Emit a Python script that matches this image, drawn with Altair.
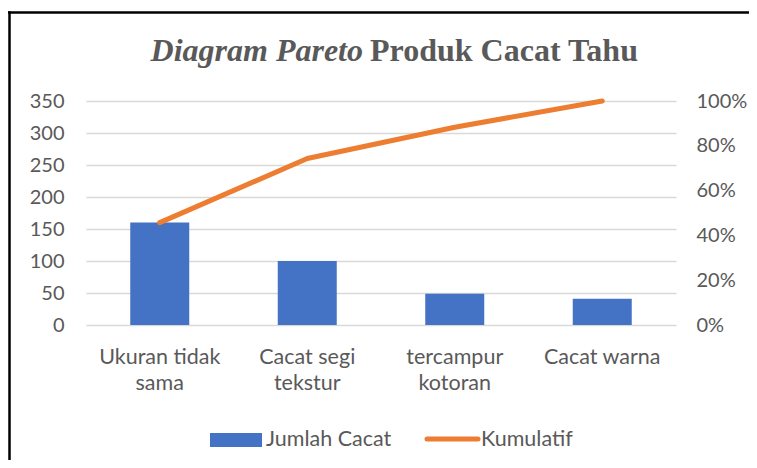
import altair as alt
import pandas as pd
import json

categories = ["Ukuran tidak sama", "Cacat segi tekstur", "tercampur kotoran", "Cacat warna"]
label_lines = [["Ukuran tidak", "sama"], ["Cacat segi", "tekstur"], ["tercampur", "kotoran"], ["Cacat warna"]]
counts = [160, 100, 49, 41]
cumulative = [0.457, 0.743, 0.883, 1.0]
left_ticks = [0, 50, 100, 150, 200, 250, 300, 350]
right_ticks = [0, 0.2, 0.4, 0.6, 0.8, 1.0]
series_names = ["Jumlah Cacat", "Kumulatif"]
title_italic = "Diagram Pareto"
title_rest = "Produk Cacat Tahu"

BLUE = "#4472C4"
ORANGE = "#ED7D31"
GREY = "#595959"
GRID = "#D9D9D9"
FONT = "Lato"
FS = 21.5
FS_AX = 20

df = pd.DataFrame({"category": categories, "count": counts, "cum": cumulative})
one = pd.DataFrame({"k": [0]})

W, H = 590, 224
PAD = {"left": 78, "top": 93, "right": 73, "bottom": 135}

label_map = "{" + ",".join(json.dumps(c) + ":" + json.dumps(l) for c, l in zip(categories, label_lines)) + "}"

xenc = alt.X(
    "category:N", sort=categories, title=None,
    scale=alt.Scale(paddingInner=0.6, paddingOuter=0.3),
    axis=alt.Axis(labelExpr=label_map + "[datum.label]", labelAngle=0, domain=False, ticks=False,
                  labelFont=FONT, labelFontSize=FS, labelColor=GREY, labelPadding=21,
                  labelLineHeight=26, labelBaseline="top"),
)

bars = alt.Chart(df).mark_bar(color=BLUE).encode(
    x=xenc,
    y=alt.Y("count:Q", title=None, scale=alt.Scale(domain=[0, 350], nice=False),
            axis=alt.Axis(orient="left", values=left_ticks, domain=False, ticks=False,
                          grid=True, gridColor=GRID, gridWidth=1.3,
                          labelFont=FONT, labelFontSize=FS_AX, labelColor=GREY, labelPadding=22)),
)

line = alt.Chart(df).mark_line(color=ORANGE, strokeWidth=5, strokeCap="round", strokeJoin="round").encode(
    x=alt.X("category:N", sort=categories),
    y=alt.Y("cum:Q", title=None, scale=alt.Scale(domain=[0, 1], nice=False),
            axis=alt.Axis(orient="right", values=right_ticks, format=".0%", domain=False, ticks=False,
                          grid=False, labelFont=FONT, labelFontSize=FS_AX, labelColor=GREY, labelPadding=20)),
)

# chart frame: only top and left edges are visible in the reference
frame_top = alt.Chart(one).mark_rule(color="black", strokeWidth=2.5).encode(
    x=alt.value(-PAD["left"]), x2=alt.value(W + PAD["right"]), y=alt.value(-88.5)
)
frame_left = alt.Chart(one).mark_rule(color="black", strokeWidth=2.5).encode(
    x=alt.value(-76.5), y=alt.value(-89.75), y2=alt.value(H + PAD["bottom"])
)

t1 = alt.Chart(one).mark_text(
    text=title_italic, font="Liberation Serif", fontSize=32, fontWeight="bold", fontStyle="italic",
    color=GREY, align="right", baseline="alphabetic"
).encode(x=alt.value(277), y=alt.value(-40))
t2 = alt.Chart(one).mark_text(
    text=title_rest, font="Liberation Serif", fontSize=32, fontWeight="bold",
    color=GREY, align="left", baseline="alphabetic"
).encode(x=alt.value(284), y=alt.value(-40))

leg_rect = alt.Chart(one).mark_rect(color=BLUE).encode(
    x=alt.value(124), x2=alt.value(176), y=alt.value(332), y2=alt.value(346)
)
leg_t1 = alt.Chart(one).mark_text(
    text=series_names[0], font=FONT, fontSize=FS, color=GREY, align="left", baseline="middle"
).encode(x=alt.value(180), y=alt.value(339))
leg_line = alt.Chart(one).mark_rule(color=ORANGE, strokeWidth=5, strokeCap="round").encode(
    x=alt.value(341), x2=alt.value(392), y=alt.value(338)
)
leg_t2 = alt.Chart(one).mark_text(
    text=series_names[1], font=FONT, fontSize=FS, color=GREY, align="left", baseline="middle"
).encode(x=alt.value(395), y=alt.value(339))

chart = alt.layer(bars, line, frame_top, frame_left, t1, t2, leg_rect, leg_t1, leg_line, leg_t2).resolve_scale(
    y="independent"
).properties(
    width=W, height=H,
    autosize=alt.AutoSizeParams(type="none"),
    padding=PAD,
    background="white",
).configure_view(strokeWidth=0)

chart.save("out.html", embed_options={"renderer": "svg", "actions": False})
